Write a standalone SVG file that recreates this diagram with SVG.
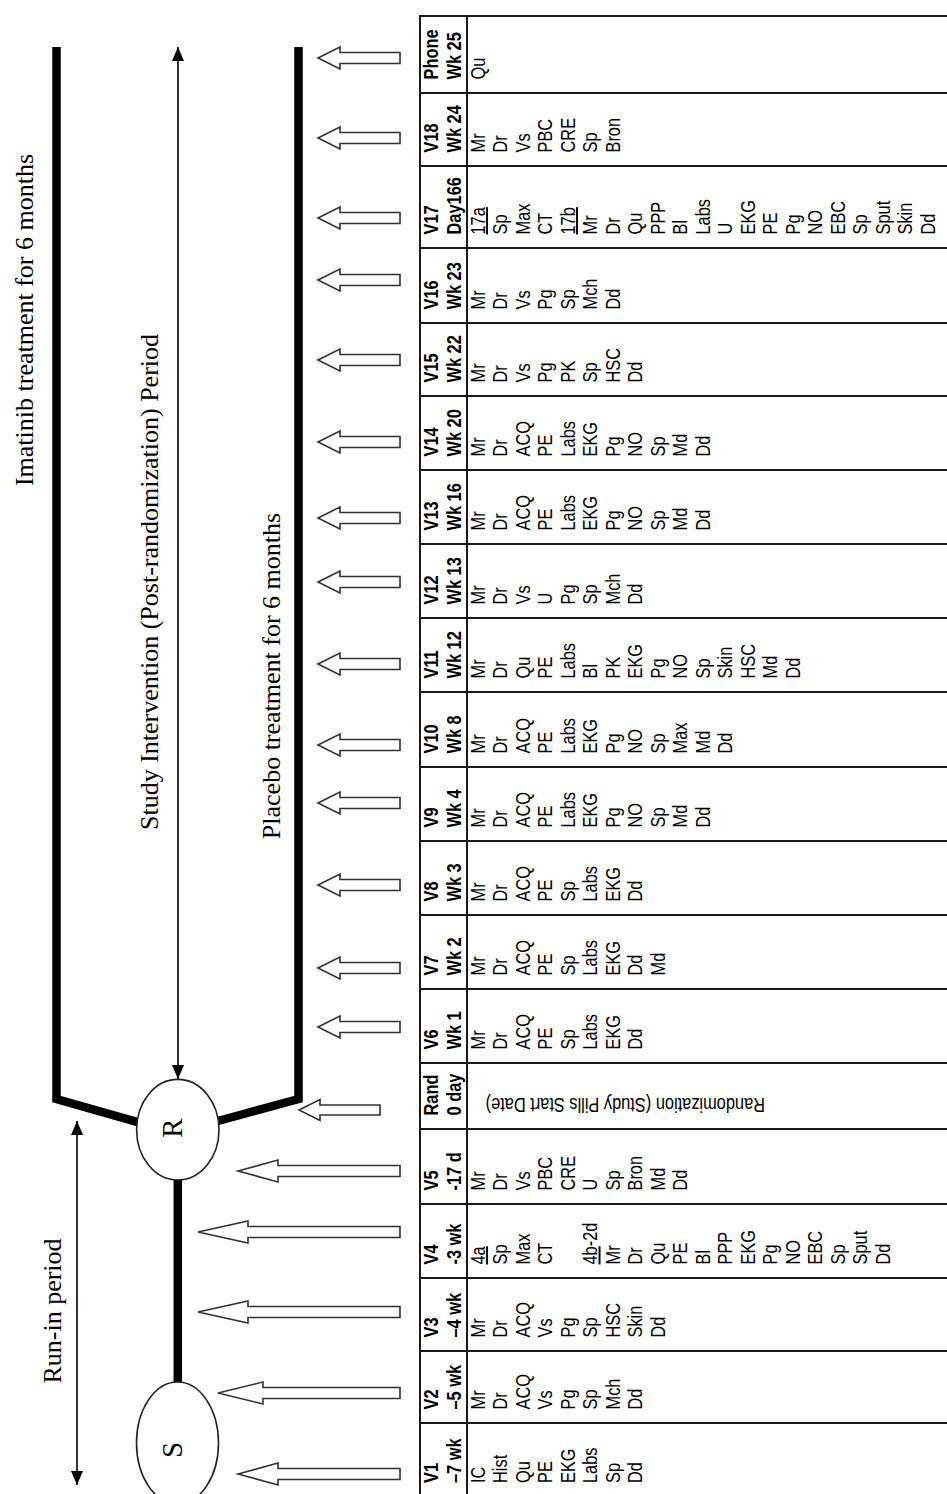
<svg xmlns="http://www.w3.org/2000/svg" xmlns:xlink="http://www.w3.org/1999/xlink" width="947" height="1494" viewBox="0 0 947 1494">
  <style>
    .serif { font-family: "Liberation Serif", "Times New Roman", serif; font-size: 26px; fill: #000; }
    .node-lbl { font-family: "Liberation Serif", "Times New Roman", serif; font-size: 29px; fill: #000; }
    .hd { font-family: "Liberation Sans", Arial, sans-serif; font-size: 19.5px; font-weight: bold; fill: #000; }
    .bd { font-family: "Liberation Sans", Arial, sans-serif; font-size: 19.5px; fill: #000; }
    .u { text-decoration: underline; }
    .grid { stroke: #1a1a1a; stroke-width: 2; fill: none; }
    .thick { stroke: #000; stroke-width: 8.5; fill: none; stroke-linejoin: miter; }
    .thin { stroke: #000; stroke-width: 1.6; fill: none; }
    .oval { fill: #fff; stroke: #222; stroke-width: 1.6; }
    .blk { fill: #fff; stroke: #333; stroke-width: 1.6; stroke-linejoin: miter; }
  </style>
  <defs>
    <marker id="ah" viewBox="0 0 14 12" refX="14" refY="6" markerWidth="14" markerHeight="12" markerUnits="userSpaceOnUse" orient="auto-start-reverse">
      <path d="M0,0 L14,6 L0,12 z" fill="#000"/>
    </marker>
    <!-- open block arrows pointing left, centred on y=0 -->
    <path id="arrPost" class="blk" d="M318,0 L340,-11 L340,-5.5 L400,-5.5 L400,5.5 L340,5.5 L340,11 Z"/>
    <path id="arrRand" class="blk" d="M299,0 L320,-10.5 L320,-5 L380,-5 L380,5 L320,5 L320,10.5 Z"/>
    <path id="arrLong" class="blk" d="M238,0 L278,-11 L278,-5.5 L400,-5.5 L400,5.5 L278,5.5 L278,11 Z"/>
    <path id="arrMax" class="blk" d="M198,0 L248,-11 L248,-5.5 L400,-5.5 L400,5.5 L248,5.5 L248,11 Z"/>
    <path id="arrMid" class="blk" d="M218,0 L263,-11 L263,-5.5 L400,-5.5 L400,5.5 L263,5.5 L263,11 Z"/>
  </defs>

  <rect width="947" height="1494" fill="#fff"/>

  <!-- period labels -->
  <g id="labels">
    <text class="serif" text-anchor="middle" transform="translate(33,320) rotate(-90)">Imatinib treatment for 6 months</text>
    <text class="serif" text-anchor="middle" transform="translate(158,582) rotate(-90)">Study Intervention (Post-randomization) Period</text>
    <text class="serif" text-anchor="middle" transform="translate(280,676) rotate(-90)">Placebo treatment for 6 months</text>
    <text class="serif" text-anchor="middle" transform="translate(61,1311) rotate(-90)">Run-in period</text>
  </g>

  <!-- treatment arms, run-in line and period arrows -->
  <g id="connectors">
    <polyline class="thick" points="56.5,47 56.5,1099 150,1125.7"/>
    <polyline class="thick" points="298.5,47 298.5,1099 205,1124.5"/>
    <line class="thick" x1="177.8" y1="1175" x2="177.8" y2="1390"/>
    <line class="thin" x1="178" y1="47" x2="178" y2="1079" marker-start="url(#ah)" marker-end="url(#ah)"/>
    <line class="thin" x1="77" y1="1121" x2="77" y2="1485" marker-start="url(#ah)" marker-end="url(#ah)"/>
  </g>

  <g id="node-R">
    <ellipse class="oval" cx="177.8" cy="1129.7" rx="41.2" ry="50.3"/>
    <text class="node-lbl" text-anchor="middle" transform="translate(182,1128) rotate(-90)">R</text>
  </g>
  <g id="node-S">
    <ellipse class="oval" cx="177.5" cy="1443" rx="41" ry="61"/>
    <text class="node-lbl" text-anchor="middle" transform="translate(182,1450) rotate(-90)">S</text>
  </g>

  <!-- visit arrows -->
  <g id="visit-arrows">
    <use href="#arrPost" y="58"/>
    <use href="#arrPost" y="138"/>
    <use href="#arrPost" y="218"/>
    <use href="#arrPost" y="280"/>
    <use href="#arrPost" y="360"/>
    <use href="#arrPost" y="442"/>
    <use href="#arrPost" y="518"/>
    <use href="#arrPost" y="582"/>
    <use href="#arrPost" y="664"/>
    <use href="#arrPost" y="745"/>
    <use href="#arrPost" y="803"/>
    <use href="#arrPost" y="885"/>
    <use href="#arrPost" y="968"/>
    <use href="#arrPost" y="1027"/>
    <use href="#arrRand" y="1110"/>
    <use href="#arrLong" y="1171"/>
    <use href="#arrMax" y="1232"/>
    <use href="#arrMax" y="1312"/>
    <use href="#arrMid" y="1393"/>
    <use href="#arrLong" y="1474"/>
  </g>

  <!-- visit schedule table -->
  <g id="table">
    <line class="grid" x1="420" y1="16" x2="420" y2="1494"/>
    <line class="grid" x1="467" y1="16" x2="467" y2="1494"/>
    <line class="grid" x1="419" y1="16" x2="947" y2="16"/>
    <line class="grid" x1="419" y1="93" x2="947" y2="93"/>
    <line class="grid" x1="419" y1="166" x2="947" y2="166"/>
    <line class="grid" x1="419" y1="248" x2="947" y2="248"/>
    <line class="grid" x1="419" y1="323" x2="947" y2="323"/>
    <line class="grid" x1="419" y1="396" x2="947" y2="396"/>
    <line class="grid" x1="419" y1="470" x2="947" y2="470"/>
    <line class="grid" x1="419" y1="544" x2="947" y2="544"/>
    <line class="grid" x1="419" y1="618" x2="947" y2="618"/>
    <line class="grid" x1="419" y1="692" x2="947" y2="692"/>
    <line class="grid" x1="419" y1="767" x2="947" y2="767"/>
    <line class="grid" x1="419" y1="841" x2="947" y2="841"/>
    <line class="grid" x1="419" y1="915" x2="947" y2="915"/>
    <line class="grid" x1="419" y1="989" x2="947" y2="989"/>
    <line class="grid" x1="419" y1="1063" x2="947" y2="1063"/>
    <line class="grid" x1="419" y1="1129" x2="947" y2="1129"/>
    <line class="grid" x1="419" y1="1204" x2="947" y2="1204"/>
    <line class="grid" x1="419" y1="1278" x2="947" y2="1278"/>
    <line class="grid" x1="419" y1="1351" x2="947" y2="1351"/>
    <line class="grid" x1="419" y1="1423" x2="947" y2="1423"/>

    <g id="row-phone" transform="translate(0,79.5) rotate(-90) scale(0.84,1)">
      <text class="hd"><tspan x="0" y="438">Phone</tspan><tspan x="0" y="461">Wk 25</tspan></text>
      <text class="bd"><tspan x="0" y="485">Qu</tspan></text>
    </g>
    <g id="row-v18" transform="translate(0,152.5) rotate(-90) scale(0.84,1)">
      <text class="hd"><tspan x="0" y="438">V18</tspan><tspan x="0" y="461">Wk 24</tspan></text>
      <text class="bd"><tspan x="0" y="485">Mr</tspan><tspan x="0" dy="22.5">Dr</tspan><tspan x="0" dy="22.5">Vs</tspan><tspan x="0" dy="22.5">PBC</tspan><tspan x="0" dy="22.5">CRE</tspan><tspan x="0" dy="22.5">Sp</tspan><tspan x="0" dy="22.5">Bron</tspan></text>
    </g>
    <g id="row-v17" transform="translate(0,234.5) rotate(-90) scale(0.84,1)">
      <text class="hd"><tspan x="0" y="438">V17</tspan><tspan x="0" y="461">Day166</tspan></text>
      <text class="bd"><tspan x="0" y="485" class="u">17a</tspan><tspan x="0" dy="22.5">Sp</tspan><tspan x="0" dy="22.5">Max</tspan><tspan x="0" dy="22.5">CT</tspan><tspan x="0" dy="22.5" class="u">17b</tspan><tspan x="0" dy="22.5">Mr</tspan><tspan x="0" dy="22.5">Dr</tspan><tspan x="0" dy="22.5">Qu</tspan><tspan x="0" dy="22.5">PPP</tspan><tspan x="0" dy="22.5">Bl</tspan><tspan x="0" dy="22.5">Labs</tspan><tspan x="0" dy="22.5">U</tspan><tspan x="0" dy="22.5">EKG</tspan><tspan x="0" dy="22.5">PE</tspan><tspan x="0" dy="22.5">Pg</tspan><tspan x="0" dy="22.5">NO</tspan><tspan x="0" dy="22.5">EBC</tspan><tspan x="0" dy="22.5">Sp</tspan><tspan x="0" dy="22.5">Sput</tspan><tspan x="0" dy="22.5">Skin</tspan><tspan x="0" dy="22.5">Dd</tspan></text>
    </g>
    <g id="row-v16" transform="translate(0,309.5) rotate(-90) scale(0.84,1)">
      <text class="hd"><tspan x="0" y="438">V16</tspan><tspan x="0" y="461">Wk 23</tspan></text>
      <text class="bd"><tspan x="0" y="485">Mr</tspan><tspan x="0" dy="22.5">Dr</tspan><tspan x="0" dy="22.5">Vs</tspan><tspan x="0" dy="22.5">Pg</tspan><tspan x="0" dy="22.5">Sp</tspan><tspan x="0" dy="22.5">Mch</tspan><tspan x="0" dy="22.5">Dd</tspan></text>
    </g>
    <g id="row-v15" transform="translate(0,382.5) rotate(-90) scale(0.84,1)">
      <text class="hd"><tspan x="0" y="438">V15</tspan><tspan x="0" y="461">Wk 22</tspan></text>
      <text class="bd"><tspan x="0" y="485">Mr</tspan><tspan x="0" dy="22.5">Dr</tspan><tspan x="0" dy="22.5">Vs</tspan><tspan x="0" dy="22.5">Pg</tspan><tspan x="0" dy="22.5">PK</tspan><tspan x="0" dy="22.5">Sp</tspan><tspan x="0" dy="22.5">HSC</tspan><tspan x="0" dy="22.5">Dd</tspan></text>
    </g>
    <g id="row-v14" transform="translate(0,456.5) rotate(-90) scale(0.84,1)">
      <text class="hd"><tspan x="0" y="438">V14</tspan><tspan x="0" y="461">Wk 20</tspan></text>
      <text class="bd"><tspan x="0" y="485">Mr</tspan><tspan x="0" dy="22.5">Dr</tspan><tspan x="0" dy="22.5">ACQ</tspan><tspan x="0" dy="22.5">PE</tspan><tspan x="0" dy="22.5">Labs</tspan><tspan x="0" dy="22.5">EKG</tspan><tspan x="0" dy="22.5">Pg</tspan><tspan x="0" dy="22.5">NO</tspan><tspan x="0" dy="22.5">Sp</tspan><tspan x="0" dy="22.5">Md</tspan><tspan x="0" dy="22.5">Dd</tspan></text>
    </g>
    <g id="row-v13" transform="translate(0,530.5) rotate(-90) scale(0.84,1)">
      <text class="hd"><tspan x="0" y="438">V13</tspan><tspan x="0" y="461">Wk 16</tspan></text>
      <text class="bd"><tspan x="0" y="485">Mr</tspan><tspan x="0" dy="22.5">Dr</tspan><tspan x="0" dy="22.5">ACQ</tspan><tspan x="0" dy="22.5">PE</tspan><tspan x="0" dy="22.5">Labs</tspan><tspan x="0" dy="22.5">EKG</tspan><tspan x="0" dy="22.5">Pg</tspan><tspan x="0" dy="22.5">NO</tspan><tspan x="0" dy="22.5">Sp</tspan><tspan x="0" dy="22.5">Md</tspan><tspan x="0" dy="22.5">Dd</tspan></text>
    </g>
    <g id="row-v12" transform="translate(0,604.5) rotate(-90) scale(0.84,1)">
      <text class="hd"><tspan x="0" y="438">V12</tspan><tspan x="0" y="461">Wk 13</tspan></text>
      <text class="bd"><tspan x="0" y="485">Mr</tspan><tspan x="0" dy="22.5">Dr</tspan><tspan x="0" dy="22.5">Vs</tspan><tspan x="0" dy="22.5">U</tspan><tspan x="0" dy="22.5">Pg</tspan><tspan x="0" dy="22.5">Sp</tspan><tspan x="0" dy="22.5">Mch</tspan><tspan x="0" dy="22.5">Dd</tspan></text>
    </g>
    <g id="row-v11" transform="translate(0,678.5) rotate(-90) scale(0.84,1)">
      <text class="hd"><tspan x="0" y="438">V11</tspan><tspan x="0" y="461">Wk 12</tspan></text>
      <text class="bd"><tspan x="0" y="485">Mr</tspan><tspan x="0" dy="22.5">Dr</tspan><tspan x="0" dy="22.5">Qu</tspan><tspan x="0" dy="22.5">PE</tspan><tspan x="0" dy="22.5">Labs</tspan><tspan x="0" dy="22.5">Bl</tspan><tspan x="0" dy="22.5">PK</tspan><tspan x="0" dy="22.5">EKG</tspan><tspan x="0" dy="22.5">Pg</tspan><tspan x="0" dy="22.5">NO</tspan><tspan x="0" dy="22.5">Sp</tspan><tspan x="0" dy="22.5">Skin</tspan><tspan x="0" dy="22.5">HSC</tspan><tspan x="0" dy="22.5">Md</tspan><tspan x="0" dy="22.5">Dd</tspan></text>
    </g>
    <g id="row-v10" transform="translate(0,753.5) rotate(-90) scale(0.84,1)">
      <text class="hd"><tspan x="0" y="438">V10</tspan><tspan x="0" y="461">Wk 8</tspan></text>
      <text class="bd"><tspan x="0" y="485">Mr</tspan><tspan x="0" dy="22.5">Dr</tspan><tspan x="0" dy="22.5">ACQ</tspan><tspan x="0" dy="22.5">PE</tspan><tspan x="0" dy="22.5">Labs</tspan><tspan x="0" dy="22.5">EKG</tspan><tspan x="0" dy="22.5">Pg</tspan><tspan x="0" dy="22.5">NO</tspan><tspan x="0" dy="22.5">Sp</tspan><tspan x="0" dy="22.5">Max</tspan><tspan x="0" dy="22.5">Md</tspan><tspan x="0" dy="22.5">Dd</tspan></text>
    </g>
    <g id="row-v9" transform="translate(0,827.5) rotate(-90) scale(0.84,1)">
      <text class="hd"><tspan x="0" y="438">V9</tspan><tspan x="0" y="461">Wk 4</tspan></text>
      <text class="bd"><tspan x="0" y="485">Mr</tspan><tspan x="0" dy="22.5">Dr</tspan><tspan x="0" dy="22.5">ACQ</tspan><tspan x="0" dy="22.5">PE</tspan><tspan x="0" dy="22.5">Labs</tspan><tspan x="0" dy="22.5">EKG</tspan><tspan x="0" dy="22.5">Pg</tspan><tspan x="0" dy="22.5">NO</tspan><tspan x="0" dy="22.5">Sp</tspan><tspan x="0" dy="22.5">Md</tspan><tspan x="0" dy="22.5">Dd</tspan></text>
    </g>
    <g id="row-v8" transform="translate(0,901.5) rotate(-90) scale(0.84,1)">
      <text class="hd"><tspan x="0" y="438">V8</tspan><tspan x="0" y="461">Wk 3</tspan></text>
      <text class="bd"><tspan x="0" y="485">Mr</tspan><tspan x="0" dy="22.5">Dr</tspan><tspan x="0" dy="22.5">ACQ</tspan><tspan x="0" dy="22.5">PE</tspan><tspan x="0" dy="22.5">Sp</tspan><tspan x="0" dy="22.5">Labs</tspan><tspan x="0" dy="22.5">EKG</tspan><tspan x="0" dy="22.5">Dd</tspan></text>
    </g>
    <g id="row-v7" transform="translate(0,975.5) rotate(-90) scale(0.84,1)">
      <text class="hd"><tspan x="0" y="438">V7</tspan><tspan x="0" y="461">Wk 2</tspan></text>
      <text class="bd"><tspan x="0" y="485">Mr</tspan><tspan x="0" dy="22.5">Dr</tspan><tspan x="0" dy="22.5">ACQ</tspan><tspan x="0" dy="22.5">PE</tspan><tspan x="0" dy="22.5">Sp</tspan><tspan x="0" dy="22.5">Labs</tspan><tspan x="0" dy="22.5">EKG</tspan><tspan x="0" dy="22.5">Dd</tspan><tspan x="0" dy="22.5">Md</tspan></text>
    </g>
    <g id="row-v6" transform="translate(0,1049.5) rotate(-90) scale(0.84,1)">
      <text class="hd"><tspan x="0" y="438">V6</tspan><tspan x="0" y="461">Wk 1</tspan></text>
      <text class="bd"><tspan x="0" y="485">Mr</tspan><tspan x="0" dy="22.5">Dr</tspan><tspan x="0" dy="22.5">ACQ</tspan><tspan x="0" dy="22.5">PE</tspan><tspan x="0" dy="22.5">Sp</tspan><tspan x="0" dy="22.5">Labs</tspan><tspan x="0" dy="22.5">EKG</tspan><tspan x="0" dy="22.5">Dd</tspan></text>
    </g>
    <g id="row-rand">
      <g transform="translate(0,1115.5) rotate(-90) scale(0.84,1)">
        <text class="hd"><tspan x="0" y="438">Rand</tspan><tspan x="0" y="461">0 day</tspan></text>
      </g>
      <text class="bd" transform="translate(765,1097.5) rotate(180) scale(0.84,1)">Randomization (Study Pills Start Date)</text>
    </g>
    <g id="row-v5" transform="translate(0,1190.5) rotate(-90) scale(0.84,1)">
      <text class="hd"><tspan x="0" y="438">V5</tspan><tspan x="0" y="461">-17 d</tspan></text>
      <text class="bd"><tspan x="0" y="485">Mr</tspan><tspan x="0" dy="22.5">Dr</tspan><tspan x="0" dy="22.5">Vs</tspan><tspan x="0" dy="22.5">PBC</tspan><tspan x="0" dy="22.5">CRE</tspan><tspan x="0" dy="22.5">U</tspan><tspan x="0" dy="22.5">Sp</tspan><tspan x="0" dy="22.5">Bron</tspan><tspan x="0" dy="22.5">Md</tspan><tspan x="0" dy="22.5">Dd</tspan></text>
    </g>
    <g id="row-v4" transform="translate(0,1264.5) rotate(-90) scale(0.84,1)">
      <text class="hd"><tspan x="0" y="438">V4</tspan><tspan x="0" y="461">-3 wk</tspan></text>
      <text class="bd"><tspan x="0" y="485" class="u">4a</tspan><tspan x="0" dy="22.5">Sp</tspan><tspan x="0" dy="22.5">Max</tspan><tspan x="0" dy="22.5">CT</tspan><tspan x="0" dy="45" class="u">4b</tspan><tspan>-2d</tspan><tspan x="0" dy="22.5">Mr</tspan><tspan x="0" dy="22.5">Dr</tspan><tspan x="0" dy="22.5">Qu</tspan><tspan x="0" dy="22.5">PE</tspan><tspan x="0" dy="22.5">Bl</tspan><tspan x="0" dy="22.5">PPP</tspan><tspan x="0" dy="22.5">EKG</tspan><tspan x="0" dy="22.5">Pg</tspan><tspan x="0" dy="22.5">NO</tspan><tspan x="0" dy="22.5">EBC</tspan><tspan x="0" dy="22.5">Sp</tspan><tspan x="0" dy="22.5">Sput</tspan><tspan x="0" dy="22.5">Dd</tspan></text>
    </g>
    <g id="row-v3" transform="translate(0,1337.5) rotate(-90) scale(0.84,1)">
      <text class="hd"><tspan x="0" y="438">V3</tspan><tspan x="0" y="461">–4 wk</tspan></text>
      <text class="bd"><tspan x="0" y="485">Mr</tspan><tspan x="0" dy="22.5">Dr</tspan><tspan x="0" dy="22.5">ACQ</tspan><tspan x="0" dy="22.5">Vs</tspan><tspan x="0" dy="22.5">Pg</tspan><tspan x="0" dy="22.5">Sp</tspan><tspan x="0" dy="22.5">HSC</tspan><tspan x="0" dy="22.5">Skin</tspan><tspan x="0" dy="22.5">Dd</tspan></text>
    </g>
    <g id="row-v2" transform="translate(0,1409.5) rotate(-90) scale(0.84,1)">
      <text class="hd"><tspan x="0" y="438">V2</tspan><tspan x="0" y="461">–5 wk</tspan></text>
      <text class="bd"><tspan x="0" y="485">Mr</tspan><tspan x="0" dy="22.5">Dr</tspan><tspan x="0" dy="22.5">ACQ</tspan><tspan x="0" dy="22.5">Vs</tspan><tspan x="0" dy="22.5">Pg</tspan><tspan x="0" dy="22.5">Sp</tspan><tspan x="0" dy="22.5">Mch</tspan><tspan x="0" dy="22.5">Dd</tspan></text>
    </g>
    <g id="row-v1" transform="translate(0,1483) rotate(-90) scale(0.84,1)">
      <text class="hd"><tspan x="0" y="438">V1</tspan><tspan x="0" y="461">–7 wk</tspan></text>
      <text class="bd"><tspan x="0" y="485">IC</tspan><tspan x="0" dy="22.5">Hist</tspan><tspan x="0" dy="22.5">Qu</tspan><tspan x="0" dy="22.5">PE</tspan><tspan x="0" dy="22.5">EKG</tspan><tspan x="0" dy="22.5">Labs</tspan><tspan x="0" dy="22.5">Sp</tspan><tspan x="0" dy="22.5">Dd</tspan></text>
    </g>
  </g>
</svg>
